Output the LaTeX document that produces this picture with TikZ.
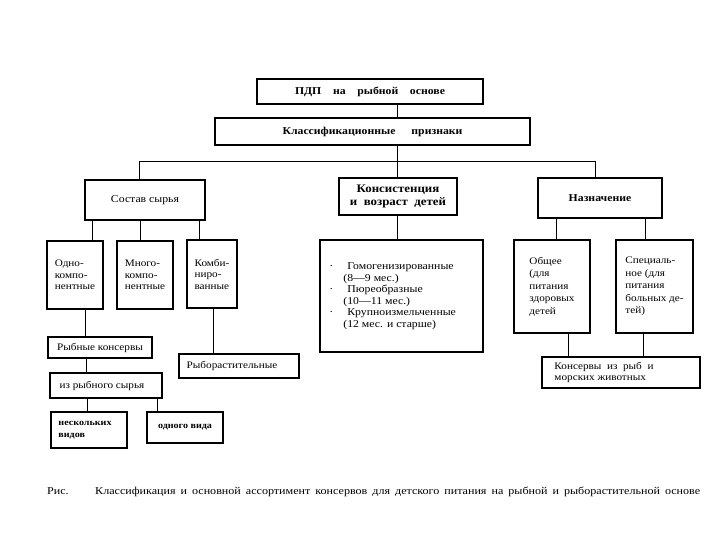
\documentclass[tikz,border=0pt]{standalone}
\usepackage{fontspec}
\setmainfont{Liberation Serif}[FakeStretch=1.12]
\newfontfamily\capfont{Liberation Serif}[FakeStretch=1.15]
\begin{document}
\begin{tikzpicture}[x=1pt,y=-1pt,
  box/.style={draw, line width=1.1pt, inner sep=0pt, align=center},
  big/.style={font=\fontsize{10.5}{12}\selectfont},
  bigb/.style={font=\fontsize{10.5}{13}\selectfont\bfseries},
  small/.style={font=\fontsize{10}{11.5}\selectfont, align=left},
  conn/.style={line width=1pt}]
\useasboundingbox[fill=white] (0,0) rectangle (720,540);
% top
\node[box, bigb, minimum width=226pt, minimum height=25pt] (pdp) at (370,91.5)
  {\makebox[150pt][s]{ПДП на рыбной основе}};
\node[box, bigb, minimum width=315pt, minimum height=27pt] (klass) at (372.5,131.5)
  {\makebox[180pt][s]{Классификационные признаки}};
% level 2
\node[box, big, minimum width=120pt, minimum height=40pt] (sostav) at (145,200) {Состав сырья};
\node[box, font=\fontsize{11.5}{13.5}\selectfont\bfseries, minimum width=118pt, minimum height=37pt] (kons) at (398,196.5)
  {Консистенция\\и\ \ возраст\ \ детей};
\node[box, bigb, minimum width=124pt, minimum height=40pt] (naz) at (600,198) {Назначение};
% level 3 left
\node[box, small, minimum width=56pt, minimum height=68pt] (odno) at (75,275) {Одно-\\компо-\\нентные};
\node[box, small, minimum width=56pt, minimum height=68pt] (mnogo) at (145,275) {Много-\\компо-\\нентные};
\node[box, small, minimum width=50pt, minimum height=68pt] (kombi) at (212,274) {Комби-\\ниро-\\ванные};
% middle big box
\node[box, minimum width=163pt, minimum height=112pt, font=\fontsize{10.5}{11.5}\selectfont, align=left] (bigbox) at (401.5,296)
  {\makebox[18pt][l]{·}Гомогенизированные\hspace*{20pt}\\
   \hspace*{14pt}(8—9 мес.)\\
   \makebox[18pt][l]{·}Пюреобразные\\
   \hspace*{14pt}(10—11 мес.)\\
   \makebox[18pt][l]{·}Крупноизмельченные\\
   \hspace*{14pt}(12 мес. и старше)};
% right
\node[box, small, minimum width=76pt, minimum height=93pt, font=\fontsize{10}{12.5}\selectfont] (obsh) at (552,286.5)
  {Общее\\(для\\питания\\здоровых\hspace*{8pt}\\детей};
\node[box, small, minimum width=77pt, minimum height=93pt, font=\fontsize{10}{12.5}\selectfont] (spec) at (654.5,286.5)
  {Специаль-\\ное (для\\питания\\больных де-\hspace*{6pt}\\тей)};
\node[box, small, minimum width=158pt, minimum height=31pt] (konserv) at (621,372.5)
  {Консервы\ \ из\ \ рыб\ \ и\hspace*{34pt}\\морских животных};
% lower left
\node[box, small, minimum width=104pt, minimum height=21pt] (ryb) at (100,347.5) {Рыбные консервы};
\node[box, small, minimum width=112pt, minimum height=25pt] (izryb) at (106,385.5) {из рыбного сырья\hspace*{8pt}};
\node[box, small, minimum width=76pt, minimum height=36pt, font=\fontsize{9}{12.5}\selectfont\bfseries] (nesk) at (89,430)
  {нескольких\hspace*{8pt}\\видов};
\node[box, small, minimum width=76pt, minimum height=31pt, font=\fontsize{9}{12}\selectfont\bfseries] (odnog) at (185,427.5) {одного вида};
\node[box, small, minimum width=120pt, minimum height=24pt] (rybor) at (239,366) {Рыборастительные\hspace*{14pt}};
% caption
\node[anchor=base west, inner sep=0pt, font=\capfont\fontsize{10.5}{12}\selectfont] (ris) at (47,494) {Рис.};
\node[anchor=base west, inner sep=0pt, font=\capfont\fontsize{10.5}{12}\selectfont] (cap) at (95,494)
  {\makebox[605pt][s]{Классификация и основной ассортимент консервов для детского питания на рыбной и рыборастительной основе}};
% connector helper coordinates
\coordinate (cx) at (397,0);
\coordinate (bus) at (0,162);
\coordinate (bl) at (139,0);
\coordinate (br) at (595,0);
\coordinate (s1) at (92,0);
\coordinate (s2) at (140,0);
\coordinate (s3) at (199,0);
\coordinate (o1) at (85,0);
\coordinate (r1) at (86,0);
\coordinate (i1) at (87,0);
\coordinate (i2) at (157,0);
\coordinate (k1) at (213,0);
\coordinate (n1) at (556,0);
\coordinate (n2) at (645,0);
\coordinate (g1) at (568,0);
\coordinate (g2) at (643,0);
% connectors
\draw[conn] (pdp.south -| cx) -- (klass.north -| cx);
\draw[conn] (klass.south -| cx) -- (kons.north -| cx);
\draw[conn] (sostav.north -| bl) -- (bl |- bus) -- (br |- bus) -- (naz.north -| br);
\draw[conn] (kons.south -| cx) -- (bigbox.north -| cx);
\draw[conn] (sostav.south -| s1) -- (odno.north -| s1);
\draw[conn] (sostav.south -| s2) -- (mnogo.north -| s2);
\draw[conn] (sostav.south -| s3) -- (kombi.north -| s3);
\draw[conn] (odno.south -| o1) -- (ryb.north -| o1);
\draw[conn] (ryb.south -| r1) -- (izryb.north -| r1);
\draw[conn] (izryb.south -| i1) -- (nesk.north -| i1);
\draw[conn] (izryb.south -| i2) -- (odnog.north -| i2);
\draw[conn] (kombi.south -| k1) -- (rybor.north -| k1);
\draw[conn] (naz.south -| n1) -- (obsh.north -| n1);
\draw[conn] (naz.south -| n2) -- (spec.north -| n2);
\draw[conn] (obsh.south -| g1) -- (konserv.north -| g1);
\draw[conn] (spec.south -| g2) -- (konserv.north -| g2);
\end{tikzpicture}
\end{document}
